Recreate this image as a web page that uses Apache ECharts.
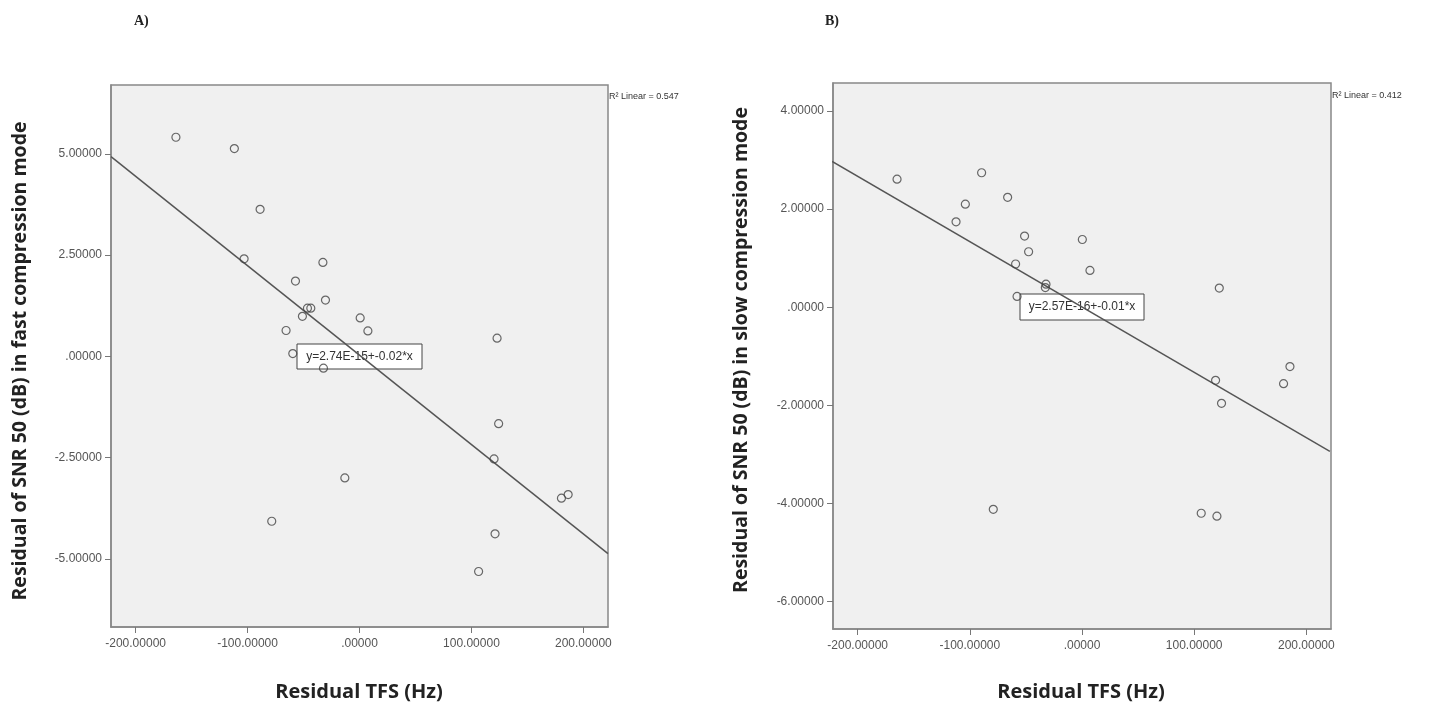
<!DOCTYPE html>
<html>
<head>
<meta charset="utf-8">
<script src="https://cdn.jsdelivr.net/npm/echarts@6/dist/echarts.min.js"></script>
<style>
html, body { margin: 0; background: #fff; }
#chart { width: 1444px; height: 709px; }
</style>
</head>
<body>
<div id="chart"></div>
<script>
// A) fast compression mode
const fastTfs = [-164, -111.8, -88.8, -103.1, -32.7, -57.2, -30.4, -46.5, -43.5, -51, 0.6, 7.5, -65.6, 122.9, -59.6, -32.2, 124.3, 120.2, -13.1, 180.4, 186.4, -78.4, 121.1, 106.4]
const fastSnr = [5.41, 5.13, 3.63, 2.41, 2.32, 1.86, 1.39, 1.19, 1.19, 0.99, 0.95, 0.63, 0.64, 0.45, 0.07, -0.29, -1.66, -2.53, -3.0, -3.5, -3.41, -4.07, -4.38, -5.31]
const fastFitX = [-222, 222]
const fastFitY = [4.93, -4.87]
// B) slow compression mode
const slowTfs = [-164.9, -89.5, -104, -66.3, -112.3, -51.2, 0.3, -47.6, -59.2, 7.1, -32.1, -32.7, -57.9, 122.4, 185.4, 179.7, 119.1, 124.4, -79.1, 106.3, 120.3]
const slowSnr = [2.61, 2.74, 2.10, 2.24, 1.74, 1.45, 1.38, 1.13, 0.88, 0.75, 0.47, 0.40, 0.22, 0.39, -1.21, -1.56, -1.49, -1.96, -4.12, -4.20, -4.26]
const slowFitX = [-222.8, 221]
const slowFitY = [2.97, -2.94]
// ticks
const xTicks = [-200, -100, 0, 100, 200]
const yTicksFast = [-5, -2.5, 0, 2.5, 5]
const yTicksSlow = [-6, -4, -2, 0, 2, 4]

// SPSS 风格的刻度标签：去掉前导 0
function fmt (v) {
  return v.toFixed(5).replace(/^(-?)0\./, '$1.')
}
function pairs (xs, ys) {
  return xs.map((x, i) => [x, ys[i]])
}

const tickFont = { fontFamily: 'Liberation Sans', fontSize: 12, color: '#555' }
const lineColor = '#555'

function xAxisFor (gridIndex) {
  return {
    type: 'value', gridIndex, min: -222, max: 222,
    splitLine: { show: false },
    axisLine: { show: true, onZero: false, lineStyle: { color: '#888', width: 1.5 } },
    axisTick: { show: true, length: 6, customValues: xTicks, lineStyle: { color: '#777' } },
    axisLabel: { ...tickFont, margin: 11, customValues: xTicks, formatter: fmt }
  }
}
function yAxisFor (gridIndex, min, max, ticks) {
  return {
    type: 'value', gridIndex, min, max,
    splitLine: { show: false },
    axisLine: { show: true, onZero: false, lineStyle: { color: '#888', width: 1.5 } },
    axisTick: { show: true, length: 6, customValues: ticks, lineStyle: { color: '#777' } },
    axisLabel: { ...tickFont, margin: 9, customValues: ticks, formatter: fmt }
  }
}
function scatterSeries (idx, xs, ys) {
  return {
    type: 'scatter', xAxisIndex: idx, yAxisIndex: idx,
    data: pairs(xs, ys),
    symbol: 'circle', symbolSize: 8,
    itemStyle: { color: 'rgba(0,0,0,0)', borderColor: '#444', borderWidth: 1.2 },
    z: 3
  }
}
function fitSeries (idx, xs, ys) {
  return {
    type: 'line', xAxisIndex: idx, yAxisIndex: idx,
    data: pairs(xs, ys),
    showSymbol: false, symbol: 'none',
    lineStyle: { color: lineColor, width: 1.5 },
    silent: true, z: 2
  }
}
function textEl (x, y, text, style, rotation) {
  return {
    type: 'text', x, y, rotation: rotation || 0,
    style: { text, ...style }
  }
}
function eqBox (x, y, w, h, text) {
  return {
    type: 'group', x, y, z: 10,
    children: [
      { type: 'rect', shape: { x: 0, y: 0, width: w, height: h }, style: { fill: '#fff', stroke: '#444', lineWidth: 1 } },
      { type: 'text', x: w / 2, y: h / 2, style: { text, fontFamily: 'Liberation Sans', fontSize: 12, fill: '#333', align: 'center', verticalAlign: 'middle' } }
    ]
  }
}

const yTitleStyle = { fontFamily: 'Open Sans', fontWeight: 'bold', fontSize: 19.5, fill: '#222', align: 'center', verticalAlign: 'middle' }
const xTitleStyle = { ...yTitleStyle, fontSize: 20 }
const panelStyle = { fontFamily: 'Liberation Serif', fontWeight: 'bold', fontSize: 14, fill: '#222', align: 'left', verticalAlign: 'middle' }
const r2Style = { fontFamily: 'Liberation Sans', fontSize: 9, fill: '#333', align: 'left', verticalAlign: 'middle' }

const option = {
  animation: false,
  grid: [
    { left: 111, top: 85, width: 497, height: 542, show: true, backgroundColor: '#f0f0f0', borderColor: '#888', borderWidth: 1.5 },
    { left: 833, top: 83, width: 498, height: 546, show: true, backgroundColor: '#f0f0f0', borderColor: '#888', borderWidth: 1.5 }
  ],
  xAxis: [xAxisFor(0), xAxisFor(1)],
  yAxis: [yAxisFor(0, -6.68, 6.7, yTicksFast), yAxisFor(1, -6.56, 4.57, yTicksSlow)],
  series: [
    fitSeries(0, fastFitX, fastFitY),
    scatterSeries(0, fastTfs, fastSnr),
    fitSeries(1, slowFitX, slowFitY),
    scatterSeries(1, slowTfs, slowSnr)
  ],
  graphic: [
    textEl(134, 21, 'A)', panelStyle),
    textEl(825, 21, 'B)', panelStyle),
    textEl(20, 361, 'Residual of SNR 50 (dB) in fast compression mode', yTitleStyle, Math.PI / 2),
    textEl(741, 350, 'Residual of SNR 50 (dB) in slow compression mode', yTitleStyle, Math.PI / 2),
    textEl(359, 692, 'Residual TFS (Hz)', xTitleStyle),
    textEl(1081, 692, 'Residual TFS (Hz)', xTitleStyle),
    textEl(609, 97, 'R² Linear = 0.547', r2Style),
    textEl(1332, 96, 'R² Linear = 0.412', r2Style),
    eqBox(297, 344, 125, 25, 'y=2.74E-15+-0.02*x'),
    eqBox(1020, 294, 124, 26, 'y=2.57E-16+-0.01*x')
  ]
}

const chart = echarts.init(document.getElementById('chart'))
chart.setOption(option)
</script>
</body>
</html>
